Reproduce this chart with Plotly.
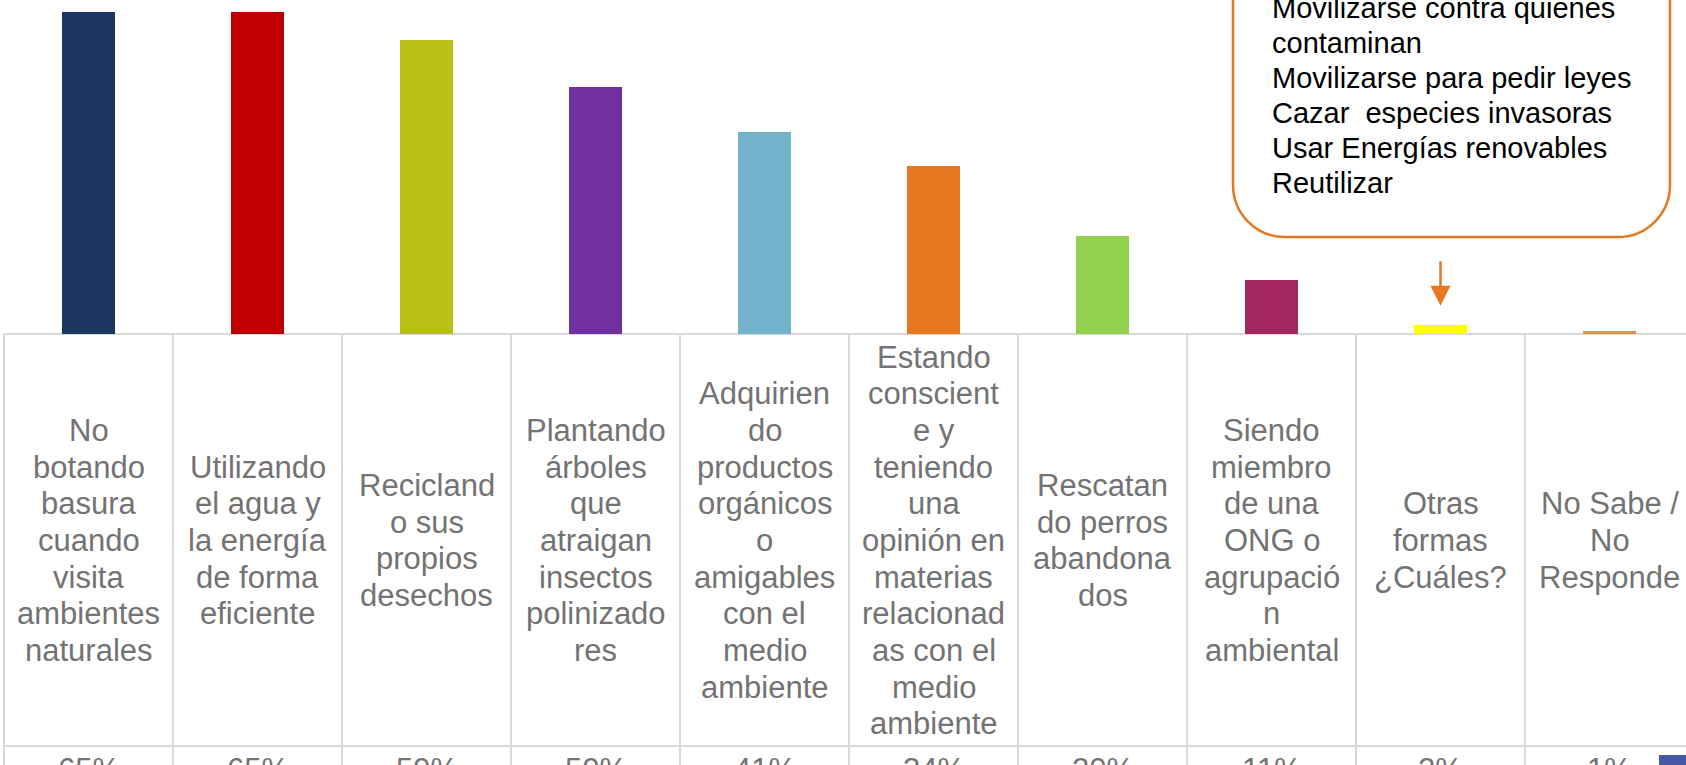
import plotly.graph_objects as go

# ---------------- data ----------------
categories = [
    "No<br>botando<br>basura<br>cuando<br>visita<br>ambientes<br>naturales",
    "Utilizando<br>el agua y<br>la energía<br>de forma<br>eficiente",
    "Recicland<br>o sus<br>propios<br>desechos",
    "Plantando<br>árboles<br>que<br>atraigan<br>insectos<br>polinizado<br>res",
    "Adquirien<br>do<br>productos<br>orgánicos<br>o<br>amigables<br>con el<br>medio<br>ambiente",
    "Estando<br>conscient<br>e y<br>teniendo<br>una<br>opinión en<br>materias<br>relacionad<br>as con el<br>medio<br>ambiente",
    "Rescatan<br>do perros<br>abandona<br>dos",
    "Siendo<br>miembro<br>de una<br>ONG o<br>agrupació<br>n<br>ambiental",
    "Otras<br>formas<br>¿Cuáles?",
    "No Sabe /<br>No<br>Responde",
]
values = [65.0, 65.0, 59.3, 49.9, 40.7, 34.0, 19.7, 10.9, 1.8, 0.6]
bar_colors = ["#1C3660", "#C00000", "#B8C014", "#7030A0", "#72B2CA",
              "#E87722", "#92D050", "#A2275E", "#FFFF00", "#ED8D4E"]
callout_lines = [
    "Movilizarse contra quienes",
    "contaminan",
    "Movilizarse para pedir leyes",
    "Cazar  especies invasoras",
    "Usar Energías renovables",
    "Reutilizar",
]

# ---------------- geometry (pixels) ----------------
W, H = 1686, 765
col_w = 169.0
first_center = 88.5
base_px = 334.0
px_per_unit = 322.0 / 65.0
row1_bottom_px = 746.0

def py(p):  # pixel y -> paper y
    return 1 - p / H

def px(p):  # pixel x -> paper x
    return p / W

x_idx = list(range(len(categories)))
x_range = [-first_center / col_w, (W - first_center) / col_w]
y_range = [-(H - base_px) / px_per_unit, base_px / px_per_unit]

FONT = "Arial, Liberation Sans, sans-serif"

fig = go.Figure()
fig.add_trace(go.Bar(
    x=x_idx, y=values, width=53 / col_w,
    marker=dict(color=bar_colors, line=dict(width=0)),
    hoverinfo="skip", showlegend=False,
))

shapes = []
grid = dict(color="#D9D9D9", width=2)
# table horizontal lines
y_row1_bottom = -(row1_bottom_px - base_px) / px_per_unit
shapes.append(dict(type="line", xref="x", yref="y", x0=-0.5, x1=x_range[1], y0=0, y1=0, line=grid, layer="below"))
shapes.append(dict(type="line", xref="x", yref="y", x0=-0.5, x1=x_range[1], y0=y_row1_bottom, y1=y_row1_bottom, line=grid))
# table vertical lines
for i in range(len(categories) + 1):
    shapes.append(dict(type="line", xref="x", yref="y", x0=i - 0.5, x1=i - 0.5,
                       y0=0, y1=y_range[0], line=grid))

# callout rounded box
L, R, T, B, r = 1233.0, 1670.0, -80.0, 237.0, 52.0
k = 0.5523 * r
def P(x, y):
    return f"{px(x):.5f},{py(y):.5f}"
path = (f"M {P(L, T)} L {P(L, B - r)} C {P(L, B - r + k)} {P(L + r - k, B)} {P(L + r, B)} "
        f"L {P(R - r, B)} C {P(R - r + k, B)} {P(R, B - r + k)} {P(R, B - r)} L {P(R, T)}")
shapes.append(dict(type="path", xref="paper", yref="paper", path=path,
                   line=dict(color="#E87722", width=2.5), fillcolor="rgba(0,0,0,0)"))

# small legend key at bottom right
shapes.append(dict(type="rect", xref="paper", yref="paper", x0=px(1659), x1=px(1690),
                   y0=py(770), y1=py(755), fillcolor="#4458A8", line=dict(width=0)))

annotations = []
# table labels, one annotation per line
line_h = 36.67
row_center = 540.5
for i, lab in enumerate(categories):
    lines = lab.split("<br>")
    n = len(lines)
    for j, t in enumerate(lines):
        c = row_center + (j - (n - 1) / 2) * line_h
        annotations.append(dict(x=i, xref="x", y=py(c), yref="paper", text=t, showarrow=False,
                                xanchor="center", yanchor="middle",
                                font=dict(family=FONT, size=31, color="#737373")))
# percentage row (cut by the canvas edge, as in the reference)
for i, v in enumerate(values):
    annotations.append(dict(x=i, xref="x", y=py(769), yref="paper", text=f"{v:.0f}%", showarrow=False,
                            xanchor="center", yanchor="middle",
                            font=dict(family=FONT, size=31, color="#737373")))
# callout text
for j, t in enumerate(callout_lines):
    c = 8.3 + j * 35.0
    annotations.append(dict(x=px(1270), xref="paper", y=py(c), yref="paper", text=t, showarrow=False,
                            xanchor="left", yanchor="middle",
                            font=dict(family=FONT, size=29, color="#000000")))
# arrow pointing to "Otras formas"
annotations.append(dict(x=8, xref="x", y=values[8] + 3.9, yref="y", text="", showarrow=True,
                        axref="pixel", ayref="pixel", ax=0, ay=-46,
                        arrowhead=2, arrowsize=1.6, arrowwidth=2.5, arrowcolor="#E87722"))

fig.update_layout(
    width=W, height=H, autosize=False,
    margin=dict(l=0, r=0, t=0, b=0, pad=0),
    paper_bgcolor="white", plot_bgcolor="white",
    xaxis=dict(range=x_range, visible=False, showgrid=False, zeroline=False, fixedrange=True),
    yaxis=dict(range=y_range, visible=False, showgrid=False, zeroline=False, fixedrange=True),
    shapes=shapes, annotations=annotations, bargap=0,
    font=dict(family=FONT),
)

fig.write_html("out.html", config={"displayModeBar": False},
               post_script="document.body.style.margin='0';document.body.style.overflow='hidden';")
